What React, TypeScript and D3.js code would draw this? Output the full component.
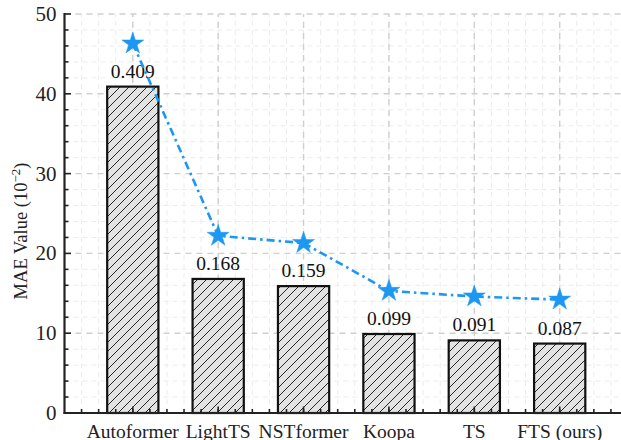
import React from "react";
import * as d3 from "d3";

const models = ["Autoformer", "LightTS", "NSTformer", "Koopa", "TS", "FTS (ours)"];
const barValues = [40.9, 16.8, 15.9, 9.9, 9.1, 8.7];
const barLabels = ["0.409", "0.168", "0.159", "0.099", "0.091", "0.087"];
const lineValues = [46.3, 22.2, 21.3, 15.3, 14.6, 14.2];
const yTicks = [0, 10, 20, 30, 40, 50];

const W = 621;
const H = 440;
const FONT = '"Liberation Serif", "Times New Roman", Times, "DejaVu Serif", serif';
const BLUE = "#1c98f2";

export default function App() {
  const x = d3.scaleLinear().domain([0.2, 6.8]).range([64.5, 628]);
  const y = d3.scaleLinear().domain([0, 50]).range([413, 14]);
  const step = x(2) - x(1);
  const barW = step * 0.6;

  const minorX = d3.range(1, 34).map((i) => 0.2 * i).filter((v) => v > 0.21 && v < 6.79);
  const minorY = d3.range(0, 51, 2).filter((v) => v % 10 !== 0);

  const line = d3
    .line<number>()
    .x((_, i) => x(i + 1))
    .y((d) => y(d));
  const star = d3.symbol().type(d3.symbolStar).size(150)();
  const txt = { fontFamily: FONT };

  return (
    <svg width={W} height={H} style={{ position: "absolute", left: 0, top: 0, background: "#fff" }}>
      <defs>
        <pattern id="hatch" patternUnits="userSpaceOnUse" width="9" height="9">
          <rect width="9" height="9" fill="#e3e3e3" />
          <path d="M-1,1 l2,-2 M0,9 l9,-9 M8,10 l2,-2" stroke="#111" strokeWidth="0.9" />
        </pattern>
        <clipPath id="plot">
          <rect x={x(0.2)} y={y(50) - 1} width={W - x(0.2)} height={y(0) - y(50) + 2} />
        </clipPath>
      </defs>

      {/* grid */}
      <g clipPath="url(#plot)">
        {minorY.map((v) => (
          <line key={"my" + v} x1={x(0.2)} x2={W} y1={y(v)} y2={y(v)} stroke="#ececec" strokeWidth={1} strokeDasharray="5,4" />
        ))}
        {minorX.map((v) => (
          <line key={"mx" + v.toFixed(1)} x1={x(v)} x2={x(v)} y1={y(0)} y2={y(50)} stroke="#ececec" strokeWidth={1} strokeDasharray="5,4" />
        ))}
        {yTicks.filter((v) => v > 0).map((v) => (
          <line key={"gy" + v} x1={x(0.2)} x2={W} y1={y(v)} y2={y(v)} stroke="#cfcfcf" strokeWidth={1.4} strokeDasharray="6,5" />
        ))}
        {models.map((_, i) => (
          <line key={"gx" + i} x1={x(i + 1)} x2={x(i + 1)} y1={y(0)} y2={y(50)} stroke="#cfcfcf" strokeWidth={1.4} strokeDasharray="6,5" />
        ))}
      </g>

      {/* bars */}
      {barValues.map((v, i) => (
        <rect
          key={"b" + i}
          x={x(i + 1) - barW / 2}
          y={y(v)}
          width={barW}
          height={y(0) - y(v)}
          fill="url(#hatch)"
          stroke="#111"
          strokeWidth={2.2}
        />
      ))}
      {barValues.map((v, i) => (
        <text key={"bl" + i} x={x(i + 1)} y={y(v) - 9} textAnchor="middle" style={txt} fontSize={19.5} fill="#111">
          {barLabels[i]}
        </text>
      ))}

      {/* line with star markers */}
      <path d={line(lineValues) || ""} fill="none" stroke={BLUE} strokeWidth={2.6} strokeDasharray="8,4,2.5,4" />
      {lineValues.map((v, i) => (
        <path key={"s" + i} d={star || ""} transform={`translate(${x(i + 1)},${y(v)})`} fill={BLUE} stroke={BLUE} strokeWidth={0.5} />
      ))}

      {/* axes */}
      <g stroke="#222" strokeWidth={1.6}>
        {minorY.map((v) => (
          <line key={"ty" + v} x1={x(0.2)} x2={x(0.2) + 4} y1={y(v)} y2={y(v)} />
        ))}
        {yTicks.map((v) => (
          <line key={"tY" + v} x1={x(0.2)} x2={x(0.2) + 6.5} y1={y(v)} y2={y(v)} />
        ))}
        {minorX.map((v) => (
          <line key={"tx" + v.toFixed(1)} x1={x(v)} x2={x(v)} y1={y(0)} y2={y(0) - 4} />
        ))}
        {models.map((_, i) => (
          <line key={"tX" + i} x1={x(i + 1)} x2={x(i + 1)} y1={y(0)} y2={y(0) - 6.5} />
        ))}
      </g>
      <line x1={x(0.2)} x2={x(0.2)} y1={y(0) + 1} y2={y(50) - 1} stroke="#222" strokeWidth={2.2} />
      <line x1={x(0.2) - 1} x2={W} y1={y(0)} y2={y(0)} stroke="#222" strokeWidth={2.2} />

      {yTicks.map((v) => (
        <text key={"yl" + v} x={x(0.2) - 8} y={y(v) + 7} textAnchor="end" style={txt} fontSize={21} fill="#222">
          {v}
        </text>
      ))}
      {models.map((m, i) => (
        <text key={"xl" + i} x={x(i + 1)} y={438} textAnchor="middle" style={txt} fontSize={19.5} fill="#222">
          {m}
        </text>
      ))}

      <text transform={`translate(27,${231}) rotate(-90)`} textAnchor="middle" style={txt} fontSize={18.5} fill="#222">
        MAE Value (10
        <tspan dy={-7} fontSize={13}>−2</tspan>
        <tspan dy={7}>)</tspan>
      </text>
    </svg>
  );
}
